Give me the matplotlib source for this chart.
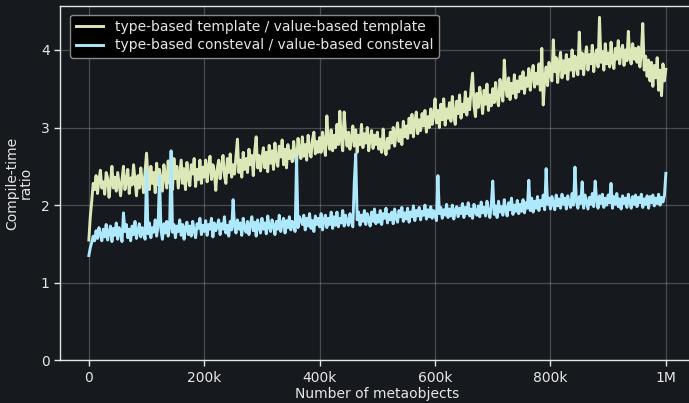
import matplotlib
matplotlib.use("Agg")
import matplotlib.pyplot as plt

metaobjects = list(range(0, 1000001, 2500))

template_ratio = [
    1.55, 1.85, 2.05, 2.28, 2.20, 2.38, 2.15, 2.32, 2.45, 2.22,
    2.30, 2.14, 2.42, 2.35, 2.10, 2.28, 2.50, 2.22, 2.36, 2.18,
    2.42, 2.27, 2.12, 2.33, 2.50, 2.20, 2.30, 2.46, 2.15, 2.35,
    2.26, 2.52, 2.32, 2.12, 2.38, 2.22, 2.48, 2.30, 2.16, 2.44,
    2.67, 2.35, 2.20, 2.50, 2.28, 2.42, 2.16, 2.54, 2.26, 2.46,
    2.32, 2.18, 2.52, 2.38, 2.22, 2.57, 2.28, 2.44, 2.20, 2.60,
    2.34, 2.50, 2.22, 2.40, 2.58, 2.28, 2.47, 2.20, 2.55, 2.36,
    2.25, 2.52, 2.40, 2.60, 2.24, 2.46, 2.33, 2.58, 2.28, 2.49,
    2.36, 2.58, 2.30, 2.50, 2.63, 2.33, 2.52, 2.42, 2.19, 2.47,
    2.58, 2.34, 2.50, 2.64, 2.38, 2.28, 2.60, 2.42, 2.66, 2.36,
    2.52, 2.40, 2.62, 2.85, 2.42, 2.58, 2.36, 2.68, 2.46, 2.60,
    2.42, 2.72, 2.52, 2.64, 2.38, 2.70, 2.88, 2.48, 2.64, 2.44,
    2.60, 2.74, 2.48, 2.68, 2.43, 2.77, 2.54, 2.70, 2.46, 2.80,
    2.58, 2.50, 2.76, 2.62, 2.84, 2.52, 2.72, 2.48, 2.78, 2.60,
    2.70, 2.56, 2.82, 2.64, 2.53, 2.86, 2.70, 2.60, 2.88, 2.63,
    2.78, 2.58, 2.90, 2.72, 2.62, 2.84, 2.94, 2.66, 2.82, 2.68,
    2.87, 2.68, 2.94, 2.78, 2.64, 3.15, 2.82, 2.72, 2.97, 2.70,
    2.90, 2.74, 3.04, 2.78, 3.21, 2.84, 2.70, 3.20, 2.92, 2.76,
    2.94, 2.72, 2.86, 3.02, 2.76, 2.97, 2.68, 2.90, 2.78, 3.04,
    2.74, 2.92, 2.80, 3.00, 2.70, 2.86, 2.96, 2.73, 2.90, 2.78,
    2.94, 2.72, 2.85, 2.68, 2.98, 2.76, 2.65, 2.86, 2.73, 2.94,
    2.80, 3.00, 2.76, 2.92, 3.06, 2.82, 2.97, 2.78, 3.08, 2.88,
    3.02, 2.86, 3.12, 2.93, 3.17, 2.88, 3.07, 3.20, 2.92, 3.10,
    2.96, 3.18, 3.02, 3.22, 2.94, 3.14, 3.00, 3.24, 3.04, 3.16,
    3.37, 3.06, 3.22, 3.00, 3.30, 3.10, 3.37, 3.03, 3.24, 3.12,
    3.32, 3.08, 3.40, 3.16, 3.04, 3.34, 3.18, 3.42, 3.12, 3.30,
    3.20, 3.46, 3.16, 3.37, 3.23, 3.50, 3.70, 3.28, 3.14, 3.44,
    3.26, 3.52, 3.36, 3.18, 3.48, 3.30, 3.56, 3.22, 3.42, 3.28,
    3.50, 3.32, 3.58, 3.38, 3.28, 3.62, 3.45, 3.34, 3.87, 3.52,
    3.40, 3.64, 3.36, 3.57, 3.44, 3.68, 3.38, 3.60, 3.46, 3.66,
    3.50, 3.72, 3.44, 3.64, 3.53, 3.76, 3.48, 3.68, 3.80, 3.52,
    3.70, 3.56, 3.82, 3.48, 4.02, 3.29, 3.62, 3.78, 3.54, 3.84,
    3.68, 3.60, 4.13, 3.72, 3.90, 3.58, 3.82, 3.97, 3.64, 3.86,
    3.70, 3.94, 3.62, 3.88, 3.74, 4.00, 3.66, 3.92, 3.78, 3.68,
    4.23, 3.76, 3.96, 3.68, 3.90, 4.04, 3.74, 3.94, 3.82, 4.06,
    3.72, 3.92, 4.00, 3.78, 4.42, 3.84, 3.98, 3.74, 4.08, 3.82,
    3.96, 3.78, 4.10, 3.84, 3.76, 4.02, 3.88, 4.12, 3.82, 3.98,
    4.06, 3.80, 4.00, 3.86, 4.24, 3.90, 3.82, 4.08, 3.88, 4.02,
    3.84, 4.04, 3.78, 3.96, 4.34, 3.74, 3.92, 3.66, 3.87, 3.60,
    3.84, 3.53, 3.80, 3.64, 3.90, 3.48, 3.74, 3.41, 3.82, 3.60,
    3.75,
]

consteval_ratio = [
    1.35, 1.45, 1.52, 1.60, 1.54, 1.67, 1.57, 1.71, 1.62, 1.54,
    1.69, 1.59, 1.75, 1.55, 1.65, 1.73, 1.53, 1.70, 1.61, 1.77,
    1.56, 1.71, 1.64, 1.53, 1.90, 1.66, 1.75, 1.58, 1.69, 1.54,
    1.73, 1.62, 1.79, 1.57, 1.67, 1.76, 1.59, 1.71, 1.64, 1.56,
    2.45, 1.63, 1.77, 1.58, 1.71, 1.65, 1.81, 1.60, 1.74, 2.38,
    1.68, 1.56, 1.76, 1.64, 1.79, 1.60, 1.71, 2.70, 1.65, 1.75,
    1.58, 1.73, 1.66, 1.81, 1.61, 1.75, 1.56, 1.71, 1.78, 1.62,
    1.73, 1.60, 1.79, 1.67, 1.58, 1.76, 1.70, 1.83, 1.62, 1.74,
    1.66, 1.80, 1.61, 1.75, 1.69, 1.83, 1.59, 1.77, 1.67, 1.73,
    1.81, 1.62, 1.76, 1.69, 1.85, 1.64, 1.74, 1.60, 1.79, 1.68,
    2.07, 1.73, 1.64, 1.81, 1.69, 1.77, 1.61, 1.83, 1.70, 1.65,
    1.79, 1.62, 1.75, 1.85, 1.67, 1.78, 1.60, 1.81, 1.72, 1.64,
    1.83, 1.69, 1.77, 1.63, 1.86, 1.72, 1.66, 1.81, 1.74, 1.62,
    1.79, 1.69, 1.87, 1.66, 1.76, 1.83, 1.64, 1.80, 1.71, 1.85,
    1.68, 1.79, 1.73, 1.66, 2.61, 1.71, 1.85, 1.80, 1.75, 1.87,
    1.68, 1.83, 1.73, 1.89, 1.70, 1.80, 1.66, 1.86, 1.75, 1.83,
    1.72, 1.89, 1.68, 1.81, 1.87, 1.71, 1.83, 1.75, 1.91, 1.70,
    1.85, 1.74, 1.91, 1.72, 1.83, 1.77, 1.93, 1.73, 1.87, 1.79,
    1.74, 1.89, 1.79, 1.72, 2.29, 2.66, 1.81, 1.91, 1.74, 1.87,
    1.79, 1.93, 1.75, 1.89, 1.82, 1.73, 1.91, 1.79, 1.95, 1.76,
    1.87, 1.78, 1.93, 1.75, 1.89, 1.83, 1.96, 1.77, 1.88, 1.81,
    1.91, 1.76, 1.95, 1.83, 1.78, 1.93, 1.85, 1.97, 1.79, 1.90,
    1.82, 1.96, 1.78, 1.91, 1.85, 1.99, 1.80, 1.93, 1.86, 1.97,
    1.81, 1.92, 1.87, 2.00, 1.82, 1.94, 1.85, 1.98, 1.83, 1.93,
    1.87, 1.80, 2.38, 1.89, 1.97, 1.83, 1.94, 1.87, 2.01, 1.84,
    1.95, 1.86, 2.00, 1.82, 1.93, 1.98, 1.85, 1.96, 1.89, 2.02,
    1.84, 1.97, 1.89, 2.03, 1.86, 1.95, 1.83, 2.01, 1.91, 1.87,
    1.99, 1.85, 2.04, 1.90, 1.97, 1.86, 2.05, 1.92, 1.84, 2.00,
    2.31, 1.88, 1.99, 1.84, 2.05, 1.91, 1.98, 1.87, 2.07, 1.93,
    1.86, 2.03, 1.94, 2.09, 1.88, 2.00, 1.92, 2.06, 1.89, 2.01,
    1.92, 2.07, 1.90, 2.03, 1.96, 2.32, 1.93, 2.09, 1.91, 2.05,
    1.96, 2.11, 1.93, 2.06, 1.99, 2.13, 1.94, 2.47, 2.01, 2.09,
    1.95, 2.11, 2.02, 1.94, 2.13, 1.99, 2.08, 1.96, 2.14, 2.01,
    2.09, 1.95, 2.12, 2.03, 1.97, 2.15, 2.00, 2.49, 2.05, 1.96,
    2.11, 2.02, 2.30, 1.96, 2.13, 2.04, 1.95, 2.10, 2.01, 2.15,
    1.98, 2.31, 2.07, 1.96, 2.12, 2.02, 2.14, 1.97, 2.09, 2.00,
    2.13, 2.03, 2.28, 1.96, 2.11, 2.01, 2.15, 1.98, 2.08, 1.95,
    2.12, 2.02, 2.09, 1.97, 2.14, 2.04, 1.96, 2.11, 2.01, 2.13,
    1.98, 2.10, 2.03, 2.14, 1.97, 2.08, 2.01, 2.12, 1.96, 2.11,
    2.03, 2.13, 1.99, 2.09, 2.02, 2.14, 2.00, 2.10, 2.04, 2.12,
    2.41,
]

series_labels = [
    "type-based template / value-based template",
    "type-based consteval / value-based consteval",
]
x_ticks = [0, 200000, 400000, 600000, 800000, 1000000]
x_tick_labels = ["0", "200k", "400k", "600k", "800k", "1M"]
y_ticks = [0, 1, 2, 3, 4]

BG = "#16191d"
FG = "#e6e6e6"
YELLOW = "#dde8b9"
BLUE = "#aee8fc"

fig = plt.figure(figsize=(6.89, 4.03), dpi=100, facecolor=BG)
ax = fig.add_axes([60 / 689, 1 - 360.3 / 403, 634.7 / 689, (360.3 - 6) / 403])
ax.set_facecolor(BG)

ax.plot(metaobjects, template_ratio, color=YELLOW, lw=2.1, label=series_labels[0], zorder=3)
ax.plot(metaobjects, consteval_ratio, color=BLUE, lw=2.1, label=series_labels[1], zorder=3)

ax.set_xlim(-50000, 1050000)
ax.set_ylim(0, 4.566)
ax.set_xticks(x_ticks)
ax.set_xticklabels(x_tick_labels)
ax.set_yticks(y_ticks)

ax.grid(True, color="#ffffff", alpha=0.22, lw=0.9)
ax.set_axisbelow(True)

for side in ["left", "bottom", "top", "right"]:
    ax.spines[side].set_color(FG)
    ax.spines[side].set_linewidth(1.0)

ax.tick_params(colors=FG, labelsize=10, length=4, width=1)
ax.set_xlabel("Number of metaobjects", color=FG, fontsize=10, labelpad=2)
ax.set_ylabel("Compile-time\nratio", color=FG, fontsize=10, labelpad=6, linespacing=0.95)

leg = ax.legend(loc="upper left", bbox_to_anchor=(0.005, 0.995), fontsize=10,
                facecolor="#000000", edgecolor="#888888", framealpha=1.0,
                labelcolor=FG, handlelength=2.0, borderpad=0.4, labelspacing=0.3)
leg.get_frame().set_linewidth(1.0)

fig.savefig("out.png", dpi=100, facecolor=BG)
